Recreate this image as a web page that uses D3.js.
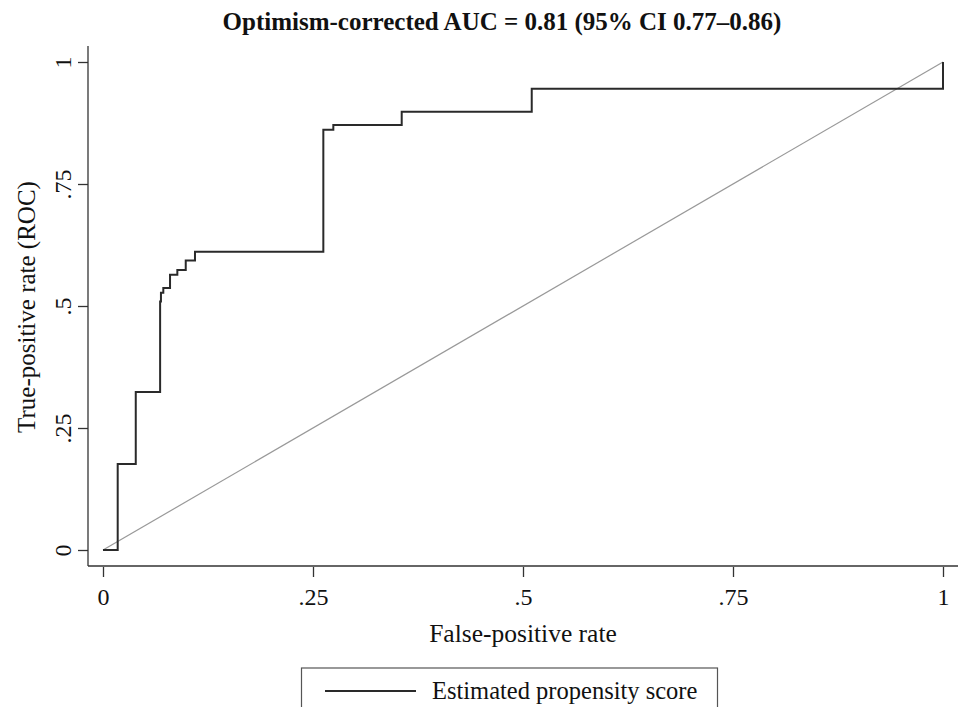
<!DOCTYPE html>
<html>
<head>
<meta charset="utf-8">
<script src="https://cdn.jsdelivr.net/npm/d3@7"></script>
<style>
  html, body { margin: 0; padding: 0; background: #fff; }
  svg { display: block; }
  text { font-family: "Liberation Serif", "DejaVu Serif", serif; fill: #111; }
</style>
</head>
<body>
<svg id="chart" width="961" height="707"></svg>
<script>
// ROC step curve (false-positive rate, true-positive rate)
const fpr = [0, 0.0175, 0.0175, 0.039, 0.039, 0.068, 0.068, 0.069, 0.069, 0.0718, 0.0718, 0.0798, 0.0798, 0.0885, 0.0885, 0.0985, 0.0985, 0.1095, 0.1095, 0.2623, 0.2623, 0.2742, 0.2742, 0.3556, 0.3556, 0.5104, 0.5104, 1.0, 1.0];
const tpr = [0, 0, 0.176, 0.176, 0.324, 0.324, 0.509, 0.509, 0.527, 0.527, 0.537, 0.537, 0.564, 0.564, 0.574, 0.574, 0.593, 0.593, 0.611, 0.611, 0.861, 0.861, 0.871, 0.871, 0.898, 0.898, 0.945, 0.945, 1.0];
const refLine = [0, 1];
const xTicks = [0, 0.25, 0.5, 0.75, 1];
const yTicks = [0, 0.25, 0.5, 0.75, 1];
const tickLabels = ["0", ".25", ".5", ".75", "1"];
const titleText = "Optimism-corrected AUC = 0.81 (95% CI 0.77\u20130.86)";
const xTitle = "False-positive rate";
const yTitle = "True-positive rate (ROC)";
const legendLabel = "Estimated propensity score";

const svg = d3.select("#chart");
const x = d3.scaleLinear().domain([0, 1]).range([103, 943]);
const y = d3.scaleLinear().domain([0, 1]).range([550, 62]);

// Title
svg.append("text").attr("x", 502).attr("y", 30).attr("text-anchor", "middle")
  .style("font-weight", "bold").style("font-size", "25px").text(titleText);

// Axes
const axisLeftX = 88, axisBottomY = 566;
const gx = svg.append("g").attr("transform", `translate(0,${axisBottomY})`)
  .call(d3.axisBottom(x).tickValues(xTicks).tickFormat((d, i) => tickLabels[i]).tickSize(10).tickPadding(12));
gx.select(".domain").remove();
gx.selectAll(".tick line").attr("stroke", "#333").attr("stroke-width", 1.3).attr("transform", "translate(0,1)");
gx.selectAll(".tick text").style("font-size", "24px").attr("fill", "#111").style("font-family", "Liberation Serif");
svg.append("line").attr("x1", axisLeftX).attr("x2", 958).attr("y1", axisBottomY).attr("y2", axisBottomY)
  .attr("stroke", "#333").attr("stroke-width", 1.3);

const gy = svg.append("g").attr("transform", `translate(${axisLeftX},0)`)
  .call(d3.axisLeft(y).tickValues(yTicks).tickFormat((d, i) => tickLabels[i]).tickSize(10).tickPadding(0));
gy.select(".domain").remove();
gy.selectAll(".tick line").attr("stroke", "#333").attr("stroke-width", 1.3);
gy.selectAll(".tick text").remove();
gy.selectAll(".tick").append("text")
  .attr("transform", "translate(-17,0) rotate(-90)")
  .attr("text-anchor", "middle").attr("dy", "0")
  .style("font-size", "24px").style("font-family", "Liberation Serif").attr("fill", "#111")
  .text((d, i) => tickLabels[i]);
svg.append("line").attr("x1", axisLeftX).attr("x2", axisLeftX).attr("y1", 46).attr("y2", axisBottomY)
  .attr("stroke", "#333").attr("stroke-width", 1.3);

// Axis titles
svg.append("text").attr("x", 523).attr("y", 642).attr("text-anchor", "middle")
  .style("font-size", "25.5px").text(xTitle);
svg.append("text").attr("transform", "translate(35,307) rotate(-90)").attr("text-anchor", "middle")
  .style("font-size", "25px").text(yTitle);

// Reference diagonal
svg.append("line").attr("x1", x(refLine[0])).attr("y1", y(refLine[0]))
  .attr("x2", x(refLine[1])).attr("y2", y(refLine[1]))
  .attr("stroke", "#999").attr("stroke-width", 1.2);

// ROC curve
const pts = fpr.map((f, i) => [f, tpr[i]]);
svg.append("path").datum(pts)
  .attr("d", d3.line().x(d => x(d[0])).y(d => y(d[1])))
  .attr("fill", "none").attr("stroke", "#2a2a2a").attr("stroke-width", 2);

// Legend
svg.append("rect").attr("x", 301.5).attr("y", 668).attr("width", 416).attr("height", 60)
  .attr("fill", "none").attr("stroke", "#555").attr("stroke-width", 1.2);
svg.append("line").attr("x1", 325).attr("x2", 416).attr("y1", 691).attr("y2", 691)
  .attr("stroke", "#2a2a2a").attr("stroke-width", 2);
svg.append("text").attr("x", 432).attr("y", 699).style("font-size", "24.5px").text(legendLabel);
</script>
</body>
</html>
